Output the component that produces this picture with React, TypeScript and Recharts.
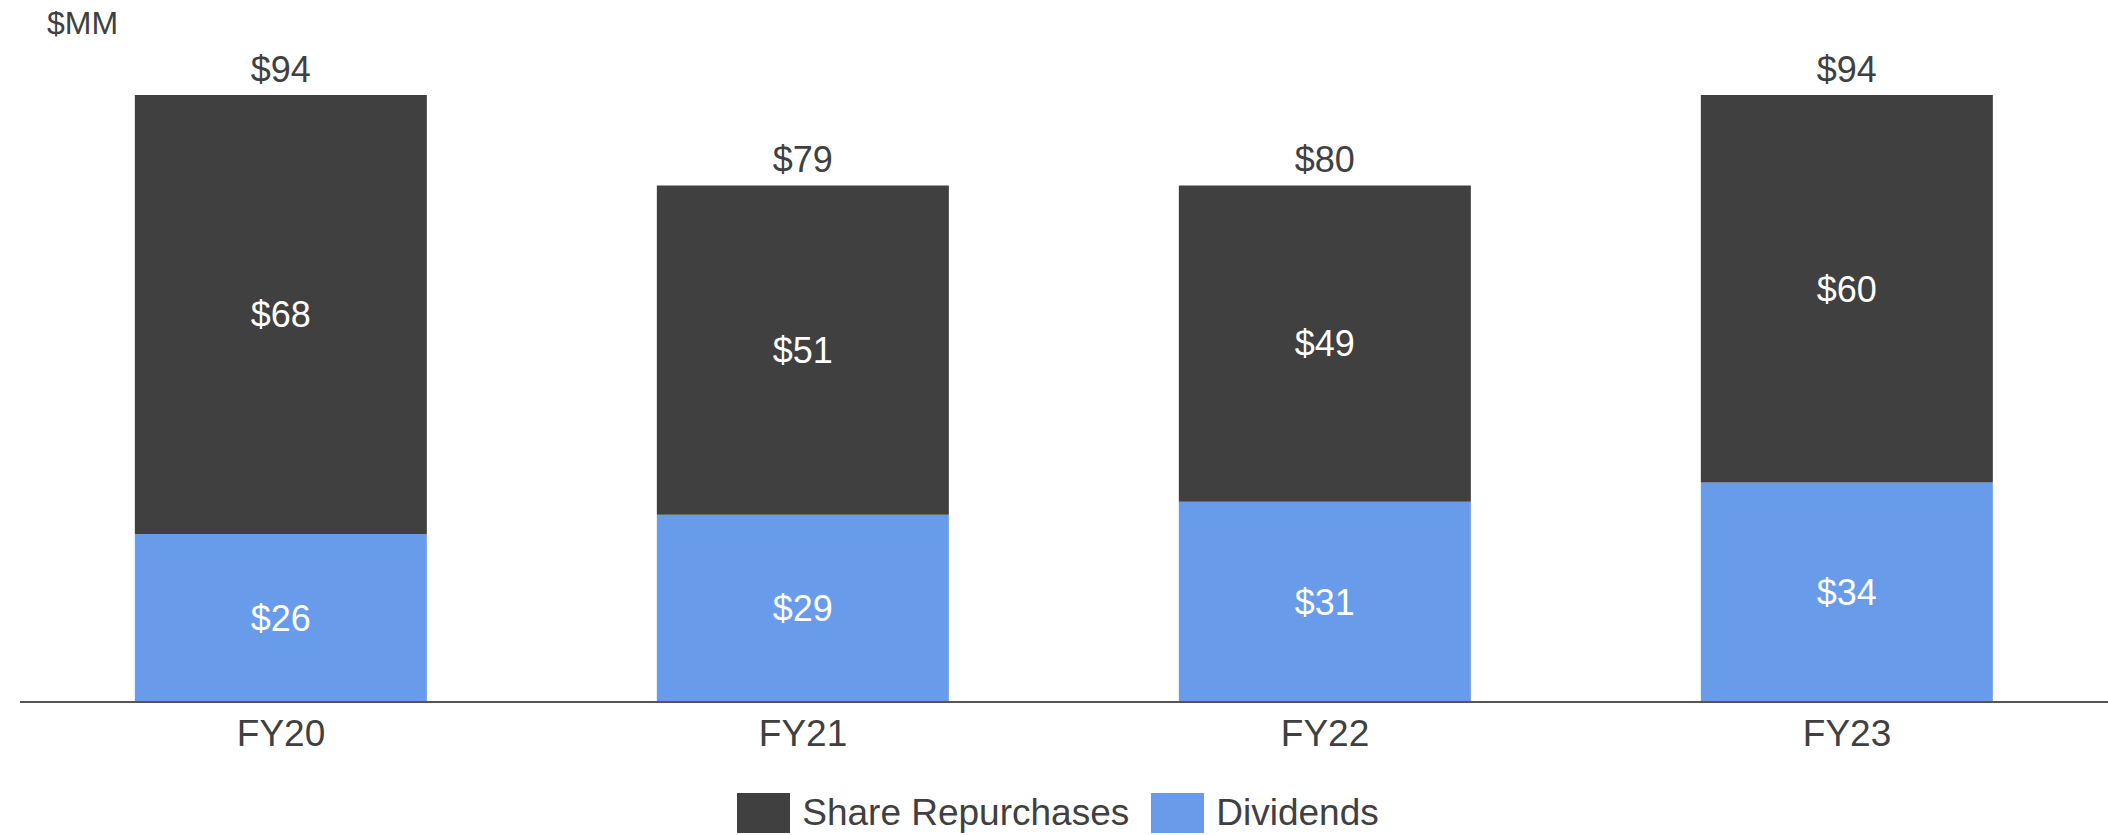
import React from "react";
import { BarChart, Bar, XAxis, YAxis, LabelList, Legend } from "recharts";

const years = ["FY20", "FY21", "FY22", "FY23"];
const dividends = [26, 29, 31, 34];
const repurchases = [68, 51, 49, 60];
const totals = [94, 79, 80, 94];

const DARK = "#404040";
const BLUE = "#699BEB";
const FONT = "'Liberation Sans', Arial, sans-serif";

const data = years.map((year, i) => ({
  year,
  dividends: dividends[i],
  repurchases: repurchases[i],
  total: totals[i],
}));

const legendItems = [
  { name: "Share Repurchases", color: DARK },
  { name: "Dividends", color: BLUE },
];

function ChartLegend() {
  return (
    <div
      style={{
        height: 75,
        paddingTop: 31,
        paddingRight: 12,
        boxSizing: "border-box",
        display: "flex",
        justifyContent: "center",
        fontFamily: FONT,
      }}
    >
      {legendItems.map((item, i) => (
        <div
          key={item.name}
          style={{
            display: "flex",
            alignItems: "center",
            marginLeft: i === 0 ? 0 : 22,
          }}
        >
          <div
            style={{
              width: 53,
              height: 40,
              background: item.color,
              marginRight: 12,
            }}
          />
          <span style={{ fontSize: 37, color: DARK, lineHeight: "40px" }}>
            {item.name}
          </span>
        </div>
      ))}
    </div>
  );
}

export default function App() {
  const money = (v: any) => `$${v}`;

  return (
    <div
      style={{
        position: "absolute",
        left: 0,
        top: 0,
        width: 2108,
        height: 835,
        background: "#fff",
        fontFamily: FONT,
      }}
    >
      <div
        style={{
          position: "absolute",
          left: 47,
          top: 7,
          fontSize: 32,
          color: DARK,
          lineHeight: 1,
        }}
      >
        $MM
      </div>

      <BarChart
        width={2108}
        height={835}
        data={data}
        margin={{ top: 95, right: 0, bottom: 0, left: 20 }}
        barCategoryGap="22%"
      >
        <XAxis
          dataKey="year"
          height={58}
          tickLine={false}
          tickMargin={12}
          axisLine={{ stroke: "#555", strokeWidth: 2 }}
          tick={{ fill: DARK, fontSize: 37, fontFamily: FONT }}
        />
        <YAxis hide domain={[0, 94]} />
        <Legend verticalAlign="bottom" content={() => <ChartLegend />} />

        <Bar
          dataKey="dividends"
          name="Dividends"
          stackId="a"
          fill={BLUE}
          isAnimationActive={false}
        >
          <LabelList
            dataKey="dividends"
            position="center"
            formatter={money}
            fill="#fff"
            fontSize={36}
            fontFamily={FONT}
          />
        </Bar>
        <Bar
          dataKey="repurchases"
          name="Share Repurchases"
          stackId="a"
          fill={DARK}
          isAnimationActive={false}
        >
          <LabelList
            dataKey="repurchases"
            position="center"
            formatter={money}
            fill="#fff"
            fontSize={36}
            fontFamily={FONT}
          />
          <LabelList
            dataKey="total"
            position="top"
            offset={13}
            formatter={money}
            fill={DARK}
            fontSize={36}
            fontFamily={FONT}
          />
        </Bar>
      </BarChart>
    </div>
  );
}
